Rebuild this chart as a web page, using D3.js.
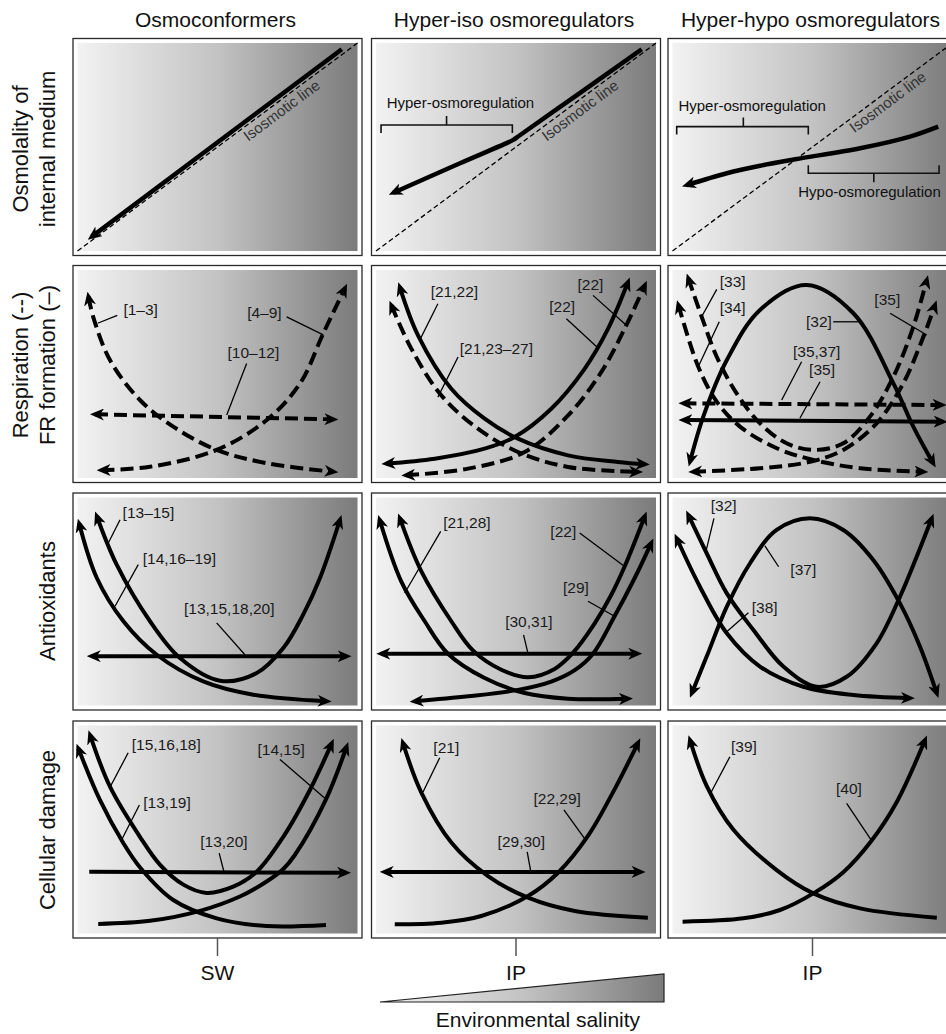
<!DOCTYPE html>
<html>
<head>
<meta charset="utf-8">
<script src="https://cdn.jsdelivr.net/npm/d3@7"></script>
<style>
  body { margin: 0; background: #fff; }
  svg text { font-family: "Liberation Sans", Arial, sans-serif; }
</style>
</head>
<body>
<div id="chart"></div>
<script>
// ---- data (panel coordinates: x 0-100 = low to high salinity, y 0-100 = low to high level)
const columnTitles = ["Osmoconformers", "Hyper-iso osmoregulators", "Hyper-hypo osmoregulators"];
const rowTitles = [["Osmolality of", "internal medium"], ["Respiration (--)", "FR formation (–)"], ["Antioxidants"], ["Cellular damage"]];
const refLabels = ["SW", "IP", "IP"];
const refSalinity = [50, 50, 50];
const isoLabelAt = [71, 71, 75];

// row 1: osmolality
const curvesR1C1 = [
  { iso: true, pts: [[0, 0], [100, 100]] },
  { arrow: "start", pts: [[5.1, 6.9], [94.4, 97.0]] }
];
const curvesR1C2 = [
  { iso: true, pts: [[0, 0], [100, 100]] },
  { arrow: "start", pts: [[6.2, 28.0], [30.0, 42.2], [46.0, 51.5], [49.0, 53.4], [51.0, 55.3], [72.0, 75.2], [94.9, 97.0]] }
];
const curvesR1C3 = [
  { iso: true, pts: [[0, 0], [100, 100]] },
  { arrow: "start", pts: [[5.1, 31.7], [19.4, 37.4], [31.3, 41.0], [43.8, 44.1], [67.0, 49.4], [84.8, 55.0], [94.9, 59.8]] }
];
const bracketsR1C2 = [
  { text: "Hyper-osmoregulation", from: 1.8, to: 48.7, level: 60.6, tip: 25.2, side: "up", textAt: [3.8, 68.6] }
];
const bracketsR1C3 = [
  { text: "Hyper-osmoregulation", from: 1.5, to: 48.5, level: 59.8, tip: 25.3, side: "up", textAt: [2.1, 67.3] },
  { text: "Hypo-osmoregulation", from: 48.5, to: 95.2, level: 37.4, tip: 71.9, side: "down", textAt: [44.9, 26.1] }
];

// row 2: respiration (dashed) and FR formation (solid)
const curvesR2C1 = [
  { dash: true, arrow: "both", pts: [[3.9, 87.2], [5.6, 77.5], [11.6, 56.7], [22.3, 37.5], [34.2, 24.7], [49.7, 13.5], [67.6, 7.1], [91.4, 3.0]] },
  { dash: true, arrow: "both", pts: [[8.6, 3.8], [25.9, 5.4], [49.7, 13.5], [67.6, 27.9], [79.5, 45.5], [87.8, 69.6], [95.5, 91.2]] },
  { dash: true, arrow: "both", pts: [[6.25, 30.6], [91.4, 28.2]] }
];
const labelsR2C1 = [
  { t: "[1–3]", at: [16.4, 78.4], anchor: "start", leader: [[14.2, 78.2], [7.2, 74.4]] },
  { t: "[4–9]", at: [72.9, 77.1], anchor: "end", leader: [[74.7, 77.5], [87.8, 68.8]] },
  { t: "[10–12]", at: [62.8, 57.5], anchor: "middle", leader: [[60.4, 55.1], [53.3, 30.3]] }
];
const curvesR2C2 = [
  { arrow: "both", pts: [[8.5, 91.8], [15.0, 68.6], [26.9, 42.9], [38.8, 28.5], [50.7, 18.9], [68.6, 10.9], [86.4, 7.7], [96.0, 6.6]] },
  { dash: true, arrow: "both", pts: [[5.5, 83.0], [12.6, 62.2], [23.3, 39.8], [36.4, 23.7], [50.7, 12.5], [68.6, 5.3], [93.6, 2.9]] },
  { arrow: "both", pts: [[3.7, 6.9], [21.0, 9.3], [38.8, 14.1], [49.5, 19.7], [62.6, 33.3], [74.5, 52.5], [82.9, 71.8], [90.0, 94.2]] },
  { dash: true, arrow: "both", pts: [[10.8, 1.3], [32.9, 4.5], [53.1, 12.5], [68.6, 30.1], [80.5, 51.0], [88.8, 71.8], [96.0, 92.6]] }
];
const labelsR2C2 = [
  { t: "[21,22]", at: [28.0, 87.0], anchor: "middle", leader: [[22.1, 83.8], [15.6, 66.2]] },
  { t: "[21,23–27]", at: [43.0, 59.8], anchor: "middle", leader: [[29.3, 58.2], [22.1, 38.9]] },
  { t: "[22]", at: [76.6, 90.2], anchor: "middle", leader: [[77.5, 87.8], [89.4, 73.4]] },
  { t: "[22]", at: [66.5, 79.8], anchor: "middle", leader: [[68.0, 76.6], [79.3, 62.5]] }
];
const curvesR2C3 = [
  { arrow: "both", pts: [[6.25, 7.8], [11.0, 29.5], [19.4, 56.7], [31.25, 80.8], [47.9, 92.8], [64.6, 79.2], [78.9, 45.5], [86.0, 24.7], [93.1, 7.1]] },
  { dash: true, arrow: "both", pts: [[5.65, 96.0], [10.4, 77.6], [15.8, 58.3], [22.9, 40.7], [31.25, 26.3], [40.75, 16.7], [50.3, 13.5], [61.0, 16.7], [70.5, 29.5], [78.9, 48.7], [86.0, 72.7], [90.8, 95.2]] },
  { dash: true, arrow: "both", pts: [[2.1, 83.2], [9.2, 53.5], [15.8, 36.7], [24.1, 24.7], [37.25, 14.3], [50.3, 8.7], [67.0, 4.7], [89.6, 3.0]] },
  { dash: true, arrow: "both", pts: [[7.4, 3.0], [31.25, 4.7], [49.1, 7.8], [61.0, 13.5], [72.9, 26.3], [82.4, 45.5], [89.6, 67.9], [93.75, 83.2]] },
  { dash: true, arrow: "both", pts: [[3.9, 35.9], [96.1, 35.1]] },
  { arrow: "both", pts: [[3.9, 27.9], [96.5, 27.1]] }
];
const labelsR2C3 = [
  { t: "[33]", at: [21.5, 92.0], anchor: "middle", leader: [[15.8, 90.7], [10.4, 77.5]] },
  { t: "[34]", at: [21.5, 79.2], anchor: "middle", leader: [[16.7, 75.1], [9.2, 53.5]] },
  { t: "[32]", at: [56.9, 72.7], anchor: "end", leader: [[57.4, 75.1], [66.4, 75.1]] },
  { t: "[35]", at: [76.7, 83.2], anchor: "middle", leader: [[77.7, 79.2], [90.8, 68.75]] },
  { t: "[35,37]", at: [51.5, 58.3], anchor: "middle", leader: [[46.1, 55.9], [39.0, 37.5]] },
  { t: "[35]", at: [53.4, 49.5], anchor: "middle", leader: [[52.7, 46.3], [45.5, 28.7]] }
];

// row 3: antioxidants
const curvesR3C1 = [
  { arrow: "both", pts: [[0.6, 87.5], [6.9, 61.3], [16.4, 40.5], [28.3, 24.4], [44.9, 11.6], [62.8, 5.2], [89.0, 2.0]] },
  { arrow: "both", pts: [[6.9, 91.0], [14.0, 67.7], [25.9, 40.5], [36.6, 22.8], [50.9, 11.9], [64.0, 15.6], [73.5, 27.6], [80.6, 43.7], [86.6, 61.3], [93.75, 89.3]] },
  { arrow: "both", pts: [[5.1, 23.7], [96.1, 23.7]] }
];
const labelsR3C1 = [
  { t: "[13–15]", at: [16.1, 90.2], anchor: "start", leader: [[15.2, 89.3], [11.0, 78.1]] },
  { t: "[14,16–19]", at: [23.3, 68.0], anchor: "start", leader: [[21.7, 67.7], [13.4, 47.7]] },
  { t: "[13,15,18,20]", at: [54.2, 44.0], anchor: "middle", leader: [[49.7, 39.7], [59.8, 24.4]] }
];
const curvesR3C2 = [
  { arrow: "both", pts: [[1.3, 89.3], [9.0, 59.7], [17.4, 40.5], [25.7, 24.9], [38.8, 13.2], [53.1, 6.0], [68.6, 3.3], [90.0, 3.3]] },
  { arrow: "both", pts: [[8.5, 90.1], [16.2, 64.5], [26.9, 40.5], [34.6, 26.5], [44.75, 17.2], [54.3, 13.6], [63.8, 17.6], [70.4, 25.4], [78.1, 39.5], [84.0, 53.1], [88.8, 66.8], [96.0, 91.0]] },
  { arrow: "both", pts: [[13.8, 2.0], [32.9, 4.4], [50.7, 7.5], [62.6, 11.5], [71.0, 17.0], [77.5, 24.9], [85.2, 42.9], [92.4, 61.3], [98.3, 78.1]] },
  { arrow: "both", pts: [[1.9, 24.9], [93.3, 24.9]] }
];
const labelsR3C2 = [
  { t: "[21,28]", at: [24.0, 85.3], anchor: "start", leader: [[23.1, 83.7], [10.25, 54.1]] },
  { t: "[22]", at: [71.5, 80.9], anchor: "end", leader: [[72.75, 82.9], [88.8, 66.8]] },
  { t: "[29]", at: [71.4, 54.1], anchor: "middle", leader: [[75.7, 50.1], [85.2, 42.9]] },
  { t: "[30,31]", at: [54.6, 37.6], anchor: "middle", leader: [[52.7, 34.0], [54.3, 24.9]] }
];
const curvesR3C3 = [
  { arrow: "both", pts: [[5.65, 91.6], [12.2, 73.2], [19.4, 53.9], [28.9, 36.3], [39.6, 18.7], [51.5, 9.0], [62.2, 13.8], [72.9, 29.9], [81.25, 52.3], [87.2, 71.5], [92.6, 90.0]] },
  { arrow: "both", pts: [[6.9, 5.9], [12.2, 23.5], [19.4, 47.5], [27.7, 68.4], [37.2, 84.4], [49.1, 90.0], [61.0, 84.4], [71.7, 70.0], [81.25, 49.1], [88.4, 28.3], [94.4, 5.9]] },
  { arrow: "both", pts: [[1.5, 80.4], [9.8, 57.1], [19.4, 34.7], [31.25, 18.7], [46.7, 9.0], [64.6, 5.0], [84.8, 3.5]] }
];
const labelsR3C3 = [
  { t: "[32]", at: [18.3, 93.7], anchor: "middle", leader: [[14.8, 90.0], [11.9, 73.9]] },
  { t: "[37]", at: [46.7, 62.7], anchor: "middle", leader: [[37.9, 66.7], [33.0, 76.7]] },
  { t: "[38]", at: [28.3, 44.3], anchor: "start", leader: [[27.1, 44.6], [18.75, 34.7]] }
];

// row 4: cellular damage
const curvesR4C1 = [
  { arrow: "both", pts: [[4.5, 95.4], [11.6, 70.6], [22.3, 46.5], [29.5, 33.0], [37.8, 23.5], [46.1, 19.5], [55.6, 22.5], [64.0, 29.7], [73.5, 46.5], [83.0, 69.0], [90.8, 91.4]] },
  { arrow: "start", pts: [[0.3, 89.0], [8.0, 64.2], [16.4, 43.4], [22.5, 31.5], [34.2, 16.1], [49.7, 7.3], [67.6, 3.6], [88.75, 4.1]] },
  { arrow: "end", pts: [[7.4, 4.6], [25.9, 6.1], [43.75, 10.9], [58.0, 17.8], [67.0, 24.5], [73.5, 31.0], [77.5, 37.5], [88.75, 64.5], [96.1, 89.8]] },
  { arrow: "end", pts: [[4.2, 29.7], [95.9, 29.2]] }
];
const labelsR4C1 = [
  { t: "[15,16,18]", at: [19.4, 88.2], anchor: "start", leader: [[18.1, 86.9], [11.6, 70.3]] },
  { t: "[14,15]", at: [72.75, 85.8], anchor: "middle", leader: [[72.3, 83.7], [88.75, 64.5]] },
  { t: "[13,19]", at: [23.5, 60.2], anchor: "start", leader: [[22.1, 61.8], [15.4, 44.1]] },
  { t: "[13,20]", at: [52.3, 41.7], anchor: "middle", leader: [[50.6, 38.6], [52.3, 29.7]] }
];
const curvesR4C2 = [
  { arrow: "start", pts: [[9.6, 91.7], [16.2, 67.7], [26.9, 43.7], [40.0, 27.6], [54.3, 17.2], [71.0, 10.8], [97.1, 7.6]] },
  { arrow: "end", pts: [[6.7, 4.4], [23.3, 5.2], [37.6, 8.4], [54.3, 18.0], [65.0, 29.2], [75.7, 46.9], [85.2, 69.3], [93.6, 91.7]] },
  { arrow: "both", pts: [[3.1, 29.6], [94.5, 29.6]] }
];
const labelsR4C2 = [
  { t: "[21]", at: [25.1, 86.6], anchor: "middle", leader: [[22.75, 84.5], [16.8, 68.0]] },
  { t: "[22,29]", at: [64.7, 62.1], anchor: "middle", leader: [[67.1, 59.4], [75.1, 44.5]] },
  { t: "[29,30]", at: [51.9, 41.7], anchor: "middle", leader: [[54.0, 39.2], [55.25, 30.0]] }
];
const curvesR4C3 = [
  { arrow: "start", pts: [[6.25, 93.0], [12.2, 71.0], [21.7, 50.0], [37.2, 30.5], [50.3, 19.3], [67.0, 12.1], [94.4, 7.6]] },
  { arrow: "end", pts: [[3.6, 5.7], [25.3, 7.3], [38.4, 11.3], [50.3, 19.3], [61.0, 29.5], [71.0, 44.5], [80.0, 63.0], [90.2, 93.0]] }
];
const labelsR4C3 = [
  { t: "[39]", at: [25.5, 87.4], anchor: "middle", leader: [[20.5, 85.0], [13.6, 67.4]] },
  { t: "[40]", at: [63.0, 67.1], anchor: "middle", leader: [[62.2, 62.6], [71.1, 44.7]] }
];

const panelCurves = [
  [curvesR1C1, curvesR1C2, curvesR1C3],
  [curvesR2C1, curvesR2C2, curvesR2C3],
  [curvesR3C1, curvesR3C2, curvesR3C3],
  [curvesR4C1, curvesR4C2, curvesR4C3]
];
const panelLabels = [
  [[], [], []],
  [labelsR2C1, labelsR2C2, labelsR2C3],
  [labelsR3C1, labelsR3C2, labelsR3C3],
  [labelsR4C1, labelsR4C2, labelsR4C3]
];
const panelBrackets = [[[], bracketsR1C2, bracketsR1C3]];

// ---- layout
const width = 946, height = 1034;
const colX = [73, 371.5, 668];
const rowY = [38.5, 265.5, 493, 721];
const panelW = 289, panelH = 217, inset = 4.5;

const svg = d3.select("#chart").append("svg")
  .attr("width", width)
  .attr("height", height);

const defs = svg.append("defs");
const grad = defs.append("linearGradient")
  .attr("id", "salinity")
  .attr("x1", 0).attr("x2", 1).attr("y1", 0).attr("y2", 0);
grad.append("stop").attr("offset", "0%").attr("stop-color", "#f2f2f2");
grad.append("stop").attr("offset", "50%").attr("stop-color", "#c3c3c3");
grad.append("stop").attr("offset", "100%").attr("stop-color", "#7b7b7b");

defs.append("marker")
  .attr("id", "arrow")
  .attr("viewBox", "0 -6 14 12")
  .attr("refX", 9)
  .attr("refY", 0)
  .attr("markerUnits", "userSpaceOnUse")
  .attr("markerWidth", 14)
  .attr("markerHeight", 12)
  .attr("orient", "auto-start-reverse")
  .append("path")
  .attr("d", "M0,-6L14,0L0,6L4,0Z")
  .attr("fill", "#000");

// column titles
svg.selectAll(".col-title")
  .data(columnTitles)
  .enter()
  .append("text")
  .attr("x", (d, i) => colX[i] + panelW / 2 - 2)
  .attr("y", 27)
  .attr("text-anchor", "middle")
  .style("font-size", "21px")
  .attr("fill", "#111")
  .text(d => d);

// row titles
const rowCenters = [149, 365, 601, 830];
rowTitles.forEach((lines, r) => {
  lines.forEach((line, k) => {
    const bx = lines.length === 2 ? [27.5, 55][k] : 54.5;
    svg.append("text")
      .attr("transform", `translate(${bx},${rowCenters[r]}) rotate(-90)`)
      .attr("text-anchor", "middle")
      .style("font-size", "22px")
      .attr("fill", "#111")
      .text(line);
  });
});

const lineGen = d3.line().curve(d3.curveCatmullRom.alpha(0.5));

for (let r = 0; r < 4; r++) {
  for (let c = 0; c < 3; c++) {
    const px = colX[c], py = rowY[r];
    const g = svg.append("g");

    g.append("rect")
      .attr("x", px).attr("y", py)
      .attr("width", panelW).attr("height", panelH)
      .attr("fill", "#fff")
      .attr("stroke", "#2a2a2a")
      .attr("stroke-width", 1.3);
    g.append("rect")
      .attr("x", px + inset).attr("y", py + inset)
      .attr("width", panelW - 2 * inset).attr("height", panelH - 2 * inset)
      .attr("fill", "url(#salinity)");

    const x = d3.scaleLinear().domain([0, 100]).range([px + inset, px + panelW - inset]);
    const y = d3.scaleLinear().domain([0, 100]).range([py + panelH - inset, py + inset]);
    lineGen.x(d => x(d[0])).y(d => y(d[1]));

    // curves
    panelCurves[r][c].forEach(cv => {
      const p = g.append("path")
        .attr("d", lineGen(cv.pts))
        .attr("fill", "none")
        .attr("stroke", "#000");
      if (cv.iso) {
        p.attr("stroke-width", 1.3).attr("stroke-dasharray", "5,3");
      } else {
        p.attr("stroke-width", r === 0 ? 4.5 : 4);
        if (cv.dash) p.attr("stroke-dasharray", "13,6");
        if (cv.arrow === "both" || cv.arrow === "start") p.attr("marker-start", "url(#arrow)");
        if (cv.arrow === "both" || cv.arrow === "end") p.attr("marker-end", "url(#arrow)");
      }
    });

    // isosmotic label along the diagonal
    if (r === 0) {
      const ang = Math.atan2(y(100) - y(0), x(100) - x(0)) * 180 / Math.PI;
      const t = isoLabelAt[c];
      g.append("text")
        .attr("transform", `translate(${x(t)},${y(t)}) rotate(${ang})`)
        .attr("dy", 14)
        .attr("text-anchor", "middle")
        .style("font-size", "15px")
        .attr("fill", "#333")
        .text("Isosmotic line");
    }

    // brackets
    const brackets = (panelBrackets[r] && panelBrackets[r][c]) || [];
    brackets.forEach(b => {
      const yl = y(b.level);
      const s = b.side === "up" ? 1 : -1;
      g.append("path")
        .attr("d", `M${x(b.from)},${yl + 8 * s}L${x(b.from)},${yl}L${x(b.to)},${yl}L${x(b.to)},${yl + 8 * s}` +
                   `M${x(b.tip)},${yl}L${x(b.tip)},${yl - 9 * s}`)
        .attr("fill", "none")
        .attr("stroke", "#111")
        .attr("stroke-width", 1.6);
      g.append("text")
        .attr("x", x(b.textAt[0]))
        .attr("y", y(b.textAt[1]))
        .style("font-size", "15px")
        .attr("fill", "#111")
        .text(b.text);
    });

    // reference labels with leader lines
    panelLabels[r][c].forEach(l => {
      g.append("line")
        .attr("x1", x(l.leader[0][0])).attr("y1", y(l.leader[0][1]))
        .attr("x2", x(l.leader[1][0])).attr("y2", y(l.leader[1][1]))
        .attr("stroke", "#000")
        .attr("stroke-width", 1.3);
      g.append("text")
        .attr("x", x(l.at[0]))
        .attr("y", y(l.at[1]))
        .attr("text-anchor", l.anchor)
        .style("font-size", "15.5px")
        .attr("fill", "#1a1a1a")
        .text(l.t);
    });

    // SW / IP markers under the bottom row
    if (r === 3) {
      const tx = x(refSalinity[c]);
      svg.append("line")
        .attr("x1", tx).attr("x2", tx)
        .attr("y1", py + panelH).attr("y2", py + panelH + 18)
        .attr("stroke", "#555")
        .attr("stroke-width", 1.5);
      svg.append("text")
        .attr("x", tx)
        .attr("y", py + panelH + 42)
        .attr("text-anchor", "middle")
        .style("font-size", "21px")
        .attr("fill", "#111")
        .text(refLabels[c]);
    }
  }
}

// environmental salinity wedge
svg.append("path")
  .attr("d", "M380,1002L664,974L664,1002Z")
  .attr("fill", "url(#salinity)")
  .attr("stroke", "#222")
  .attr("stroke-width", 1.2);
svg.append("text")
  .attr("x", 538)
  .attr("y", 1027)
  .attr("text-anchor", "middle")
  .style("font-size", "21px")
  .attr("fill", "#111")
  .text("Environmental salinity");
</script>
</body>
</html>
